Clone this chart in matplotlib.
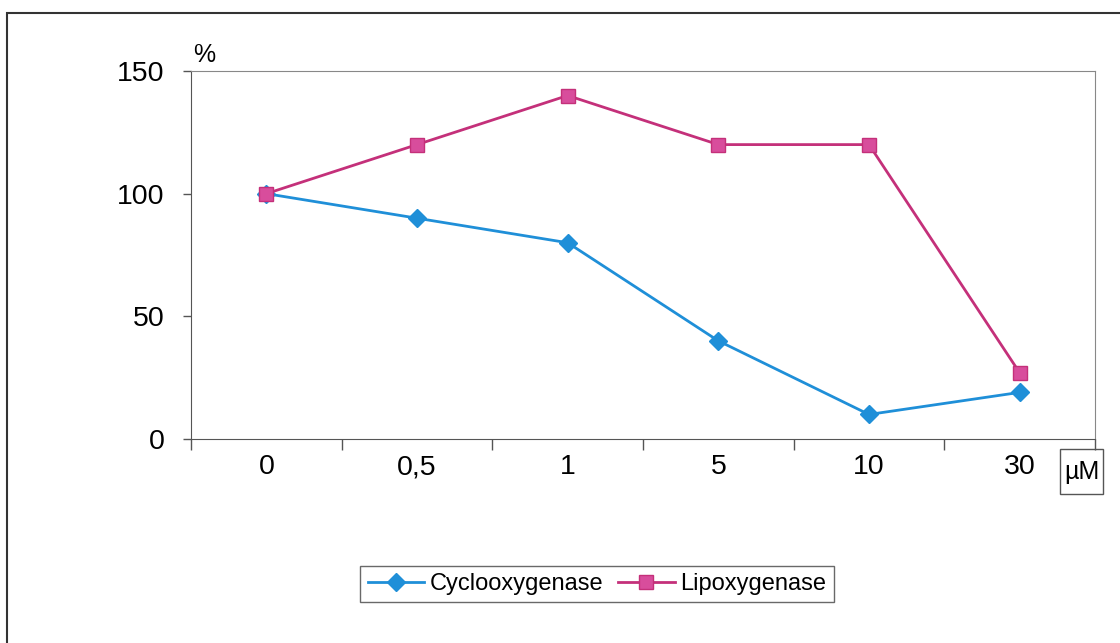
import numpy as np
import matplotlib
matplotlib.use("Agg")
from matplotlib import pyplot as plt
from matplotlib.patches import Rectangle

plt.rcParams['font.family'] = ['Liberation Sans', 'DejaVu Sans']

doses = ['0', '0,5', '1', '5', '10', '30']
cyclo = [100, 90, 80, 40, 10, 19]
lipo = [100, 120, 140, 120, 120, 27]

fig = plt.figure(figsize=(11.2, 6.43), dpi=100)
ax = fig.add_axes([191 / 1120, 1 - 439 / 643, (1095 - 191) / 1120, (439 - 71) / 643])

x = np.arange(len(doses))
ax.plot(x, cyclo, color='#1f8fd8', lw=2, marker='D', ms=9,
        mfc='#1f8fd8', mec='#1f8fd8', label='Cyclooxygenase')
ax.plot(x, lipo, color='#c4307a', lw=2, marker='s', ms=10,
        mfc='#d84d9c', mec='#c4307a', label='Lipoxygenase')

ax.set_xlim(-0.5, len(doses) - 0.5)
ax.set_ylim(0, 150)
ax.set_yticks([0, 50, 100, 150])
ax.tick_params(axis='y', labelsize=20.5, length=6, width=1, color='#555555',
               direction='out', pad=13)

# category boundaries get the tick marks, centres get the labels
ax.set_xticks(np.arange(-0.5, len(doses), 1.0))
ax.set_xticklabels([])
ax.tick_params(axis='x', which='major', length=8, width=1, color='#555555',
               direction='out')
ax.set_xticks(x, minor=True)
ax.set_xticklabels(doses, minor=True)
ax.tick_params(axis='x', which='minor', length=0, labelsize=20.5, pad=11)

for s in ['left', 'bottom']:
    ax.spines[s].set_color('#555555')
for s in ['top', 'right']:
    ax.spines[s].set_color('#888888')

ax.text(0.002, 1.01, '%', transform=ax.transAxes, fontsize=18, ha='left', va='bottom')

# unit box under the right end of the axis
fig.patches.append(Rectangle((1060 / 1120, 1 - 494 / 643), 43 / 1120, 45 / 643,
                             transform=fig.transFigure, fill=False,
                             ec='#555555', lw=1))
fig.text(1081.5 / 1120, 1 - 472 / 643, 'µM', fontsize=18, ha='center', va='center')

fig.legend(loc='center', bbox_to_anchor=(597 / 1120, 1 - 584 / 643), ncol=2,
           fontsize=17, frameon=True, fancybox=False, edgecolor='#444444',
           handlelength=2.4, columnspacing=0.6, handletextpad=0.25,
           borderpad=0.3)

fig.patches.append(Rectangle((7 / 1120, -0.1), 1.2, 1 - 13 / 643 + 0.1,
                             transform=fig.transFigure, fill=False,
                             ec='#333333', lw=1.5))

fig.savefig('out.png', dpi=100)
